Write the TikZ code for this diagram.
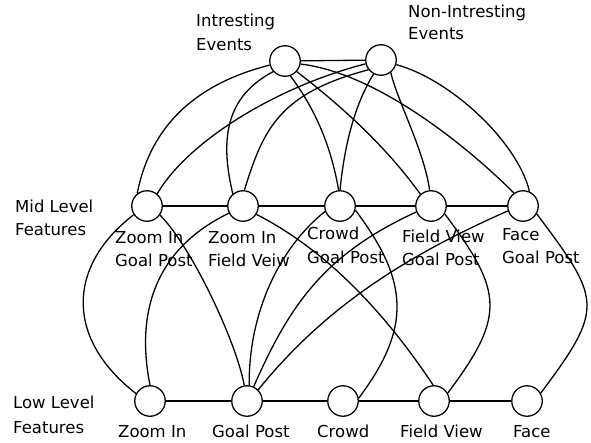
\documentclass[tikz,border=0pt]{standalone}
\usepackage{fontspec}
\setmainfont{DejaVu Sans}
\begin{document}
\begin{tikzpicture}[x=1pt,y=-1pt,
  state/.style={circle,draw,line width=1.3pt,minimum size=30.5pt,inner sep=0pt},
  lbl/.style={anchor=base west,inner sep=0pt,font=\fontsize{16.5}{20}\selectfont},
  link/.style={line width=1.3pt}]
\useasboundingbox (0,0) rectangle (591,442);

% event nodes
\node[state] (I) at (285,61) {};
\node[state] (N) at (381,60) {};
% mid level feature nodes
\node[state] (m1) at (147,206) {};
\node[state] (m2) at (243,206) {};
\node[state] (m3) at (340,206) {};
\node[state] (m4) at (431,206) {};
\node[state] (m5) at (523,206) {};
% low level feature nodes
\node[state] (l1) at (150,401) {};
\node[state] (l2) at (247,401) {};
\node[state] (l3) at (343,401) {};
\node[state] (l4) at (434,401) {};
\node[state] (l5) at (527,401) {};

% labels
\node[lbl] (tI1) at (196,26) {Intresting};
\node[lbl] (tI2) at (196,50) {Events};
\node[lbl] (tN1) at (408,17) {Non-Intresting};
\node[lbl] (tN2) at (408,39) {Events};
\node[lbl] (tM1) at (15,212) {Mid Level};
\node[lbl] (tM2) at (15,235) {Features};
\node[lbl] (tL1) at (13,408) {Low Level};
\node[lbl] (tL2) at (13,433) {Features};

\node[lbl] (a1) at (115,243) {Zoom In};
\node[lbl] (a2) at (115,266) {Goal Post};
\node[lbl] (b1) at (208,243) {Zoom In};
\node[lbl] (b2) at (208,266) {Field Veiw};
\node[lbl] (c1) at (307,239) {Crowd};
\node[lbl] (c2) at (307,263) {Goal Post};
\node[lbl] (d1) at (402,242) {Field View};
\node[lbl] (d2) at (402,265) {Goal Post};
\node[lbl] (e1) at (502,240) {Face};
\node[lbl] (e2) at (502,263) {Goal Post};

\node[lbl] (f1) at (118,437) {Zoom In};
\node[lbl] (f2) at (212,437) {Goal Post};
\node[lbl] (f3) at (317,437) {Crowd};
\node[lbl] (f4) at (400,437) {Field View};
\node[lbl] (f5) at (513,437) {Face};

% straight links
\draw[link] (I) -- (N);
\draw[link] (m1) -- (m2);
\draw[link] (m2) -- (m3);
\draw[link] (m3) -- (m4);
\draw[link] (m4) -- (m5);
\draw[link] (l1) -- (l2);
\draw[link] (l2) -- (l3);
\draw[link] (l3) -- (l4);
\draw[link] (l4) -- (l5);

% events to mid level features
\draw[link] (I.195) .. controls (199,83) and (151,123) .. (m1.128);
\draw[link] (N.194) .. controls (277,86.5) and (188,141) .. (m1.50);
\draw[link] (I.222) .. controls (225,97) and (220,140) .. (m2.130);
\draw[link] (N.218) .. controls (280,93) and (263.5,128) .. (m2.85);
\draw[link] (I.290) .. controls (314.5,108) and (331,145) .. (m3.95);
\draw[link] (N.242) .. controls (354.5,105) and (344.5,145) .. (m3.90);
\draw[link] (I.318) .. controls (340,105) and (385,145) .. (m4.132);
\draw[link] (N.308) .. controls (397,100) and (424,150) .. (m4.95);
\draw[link] (I.349) .. controls (380,73.6) and (472,151) .. (m5.125);
\draw[link] (N.343) .. controls (450,79) and (517.5,141.5) .. (m5.66);

% mid level to low level features
\draw[link] (m1.213) .. controls (65,268) and (67,340) .. (l1.152);
\draw[link] (m1.325) .. controls (191.5,246.5) and (236.4,342) .. (l2.100);
\draw[link] (m2.207) .. controls (157,248) and (135,310) .. (l1.90);
\draw[link] (m2.328) .. controls (336,255) and (394.5,327) .. (l4.93);
\draw[link] (m3.200) .. controls (278,249) and (248.4,315) .. (l2.82);
\draw[link] (m3.345) .. controls (408.6,281) and (412,327) .. (l3.10);
\draw[link] (m4.202) .. controls (325,254) and (290,303.7) .. (l2.65);
\draw[link] (m4.330) .. controls (503,291.6) and (506,315.4) .. (l4.30);
\draw[link] (m5.198) .. controls (398.6,259) and (321.3,311.7) .. (l2.45);
\draw[link] (m5.330) .. controls (601,299.6) and (605,307.4) .. (l5.30);
\end{tikzpicture}
\end{document}
